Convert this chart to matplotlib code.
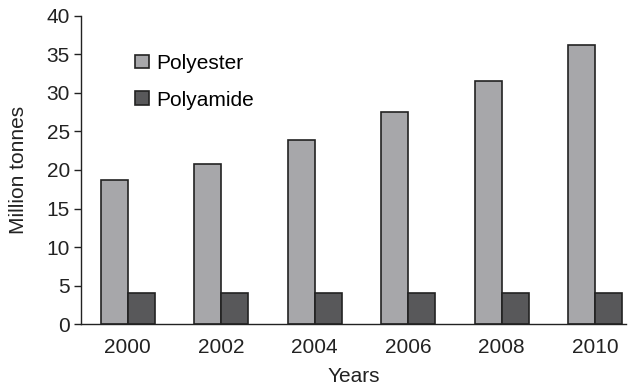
import matplotlib.pyplot as plt
import numpy as np

# Data
years = ['2000', '2002', '2004', '2006', '2008', '2010']
polyester = [18.7, 20.8, 23.9, 27.5, 31.6, 36.2]
polyamide = [4.0, 4.0, 4.0, 4.0, 4.0, 4.0]

plt.rcParams['font.family'] = ['Liberation Sans', 'DejaVu Sans']
FS = 15

fig = plt.figure(figsize=(6.37, 3.89), dpi=100)
ax = fig.add_axes([0.127, 0.167, 0.856, 0.792])

x = np.arange(len(years))
width = 0.29

ax.bar(x - width / 2, polyester, width, label='Polyester', color='#a7a7aa',
       edgecolor='#222222', linewidth=1.2)
ax.bar(x + width / 2, polyamide, width, label='Polyamide', color='#58585a',
       edgecolor='#222222', linewidth=1.2)

ax.set_xlim(-0.5, 5.33)
ax.set_ylim(0, 40)
ax.set_yticks(range(0, 41, 5))
ax.set_xticks(x)
ax.set_xticklabels(years)
ax.tick_params(axis='x', length=0, labelsize=FS, pad=10, colors='#222222')
ax.tick_params(axis='y', length=5, width=1, labelsize=FS, pad=3, colors='#222222')

for side in ['top', 'right']:
    ax.spines[side].set_visible(False)
for side in ['left', 'bottom']:
    ax.spines[side].set_color('#222222')
    ax.spines[side].set_linewidth(1)

ax.set_xlabel('Years', fontsize=FS, color='#222222', labelpad=7)
ax.set_ylabel('Million tonnes', fontsize=FS, color='#222222', labelpad=13)

ax.legend(loc='upper left', bbox_to_anchor=(0.1, 0.877), frameon=False,
          fontsize=FS, handlelength=0.65, handleheight=0.65,
          handletextpad=0.35, labelspacing=0.86, borderpad=0,
          borderaxespad=0)

plt.savefig('out.png', dpi=100)
